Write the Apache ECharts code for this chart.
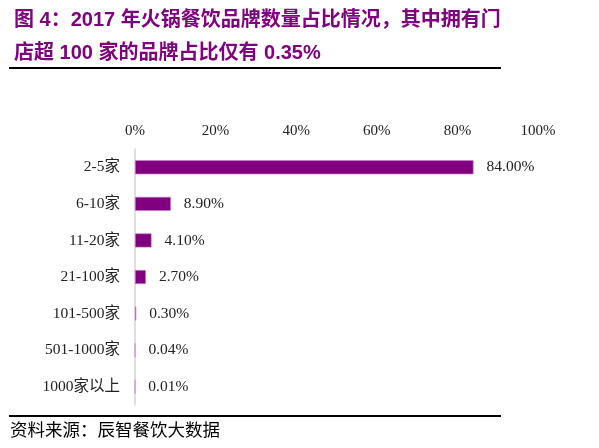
<!DOCTYPE html>
<html>
<head>
<meta charset="utf-8">
<script src="https://cdn.jsdelivr.net/npm/echarts@6/dist/echarts.min.js"></script>
<style>
  html, body { margin: 0; padding: 0; background: #fff; }
  #main { width: 599px; height: 448px; }
</style>
</head>
<body>
<div id="main"></div>
<script>
// 门店规模分类
const categories = ['2-5家', '6-10家', '11-20家', '21-100家', '101-500家', '501-1000家', '1000家以上'];
// 品牌占比（%）
const shares = [84.00, 8.90, 4.10, 2.70, 0.30, 0.04, 0.01];
const xTicks = [0, 20, 40, 60, 80, 100];

const serif = '"Liberation Serif", "Noto Sans CJK SC", serif';
const purple = '#800080';

let option = {
    animation: false,
    title: {
        text: '图 4：2017 年火锅餐饮品牌数量占比情况，其中拥有门\n店超 100 家的品牌占比仅有 0.35%',
        left: 9,
        top: -1,
        textStyle: {
            color: purple,
            fontSize: 20,
            fontWeight: 'bold',
            fontFamily: '"Liberation Sans", "Noto Sans CJK SC", sans-serif',
            lineHeight: 33
        }
    },
    graphic: [
        { type: 'rect', shape: { x: 9, y: 67, width: 492, height: 2 }, style: { fill: '#000' } },
        { type: 'rect', shape: { x: 9, y: 415, width: 492, height: 2 }, style: { fill: '#000' } },
        {
            type: 'text', left: 10, top: 423,
            style: { text: '资料来源：辰智餐饮大数据', fontSize: 17.5, fill: '#000', fontFamily: serif }
        }
    ],
    grid: { left: 135, right: 61, top: 149, bottom: 43, containLabel: false },
    xAxis: {
        type: 'value',
        position: 'top',
        min: xTicks[0],
        max: xTicks[xTicks.length - 1],
        interval: 20,
        axisLine: { show: false },
        axisTick: { show: false },
        splitLine: { show: false },
        axisLabel: {
            margin: 10,
            formatter: '{value}%',
            color: '#222',
            fontSize: 15,
            fontFamily: serif
        }
    },
    yAxis: {
        type: 'category',
        inverse: true,
        data: categories,
        axisLine: { lineStyle: { color: '#d4d4d4', width: 1.5 } },
        axisTick: { inside: true, length: 4, lineStyle: { color: '#d4d4d4' } },
        axisLabel: {
            margin: 15,
            color: '#222',
            fontSize: 15.5,
            fontFamily: serif
        }
    },
    series: [{
        type: 'bar',
        data: shares,
        barWidth: 14,
        itemStyle: { color: purple, borderColor: '#c77fc7', borderWidth: 0.6 },
        label: {
            show: true,
            position: 'right',
            distance: 13,
            formatter: p => p.value.toFixed(2) + '%',
            color: '#222',
            fontSize: 15.5,
            fontFamily: serif
        }
    }]
};

echarts.init(document.getElementById('main')).setOption(option);
</script>
</body>
</html>
